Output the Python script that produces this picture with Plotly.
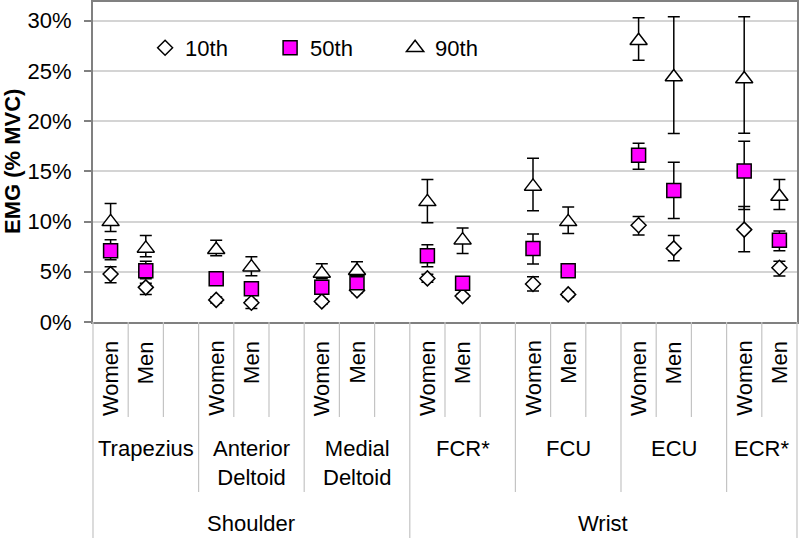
import plotly.graph_objects as go

# ---------------- data (EMG, % MVC) ----------------
muscles = ["Trapezius", "Anterior<br>Deltoid", "Medial<br>Deltoid", "FCR*", "FCU", "ECU", "ECR*"]
regions = ["Shoulder", "Wrist"]
region_of_muscle = [0, 0, 0, 1, 1, 1, 1]
genders = ["Women", "Men"]
y_ticks = [0, 5, 10, 15, 20, 25, 30]
y_tick_labels = ["0%", "5%", "10%", "15%", "20%", "25%", "30%"]
series_names = ["10th", "50th", "90th"]

# order: TrapW, TrapM, AntW, AntM, MedW, MedM, FCRW, FCRM, FCUW, FCUM, ECUW, ECUM, ECRW, ECRM
p10 = [4.77, 3.45, 2.20, 1.92, 2.05, 3.15, 4.34, 2.58, 3.78, 2.75, 9.64, 7.33, 9.20, 5.40]
p10_hi = [5.50, 3.85, 2.50, 2.20, 2.30, 3.40, 4.75, 2.80, 4.50, 3.00, 10.50, 8.60, 11.50, 6.06]
p10_lo = [3.90, 2.75, 1.90, 1.35, 1.80, 2.90, 3.95, 2.35, 3.08, 2.50, 8.65, 6.10, 7.00, 4.57]

p50 = [7.09, 5.10, 4.30, 3.30, 3.45, 3.90, 6.60, 3.85, 7.33, 5.10, 16.60, 13.10, 15.04, 8.15]
p50_hi = [8.20, 6.06, 4.70, 3.70, 3.90, 4.30, 7.70, 4.20, 8.75, 5.50, 17.80, 15.90, 18.00, 9.07]
p50_lo = [6.20, 4.30, 3.90, 2.90, 3.00, 3.50, 5.50, 3.50, 5.77, 4.70, 15.20, 10.30, 11.20, 7.09]

p90 = [9.97, 7.33, 7.20, 5.46, 4.84, 5.10, 11.96, 8.15, 13.50, 9.97, 28.00, 24.40, 24.20, 12.50]
p90_hi = [11.80, 8.60, 8.15, 6.50, 5.80, 6.00, 14.20, 9.37, 16.30, 11.46, 30.30, 30.40, 30.40, 14.20]
p90_lo = [9.00, 6.50, 6.60, 4.60, 4.30, 4.50, 9.87, 6.83, 11.07, 8.80, 26.05, 18.76, 18.80, 11.20]

# ---------------- layout helpers ----------------
W, H = 800, 538
ML, MR, MT, MB = 93, 3, 2, 216
PH = H - MT - MB
FONT = "Liberation Sans, Arial, sans-serif"
FS = 22
n_slots = len(muscles) * 3 - 1

slot_x = []
for mi in range(len(muscles)):
    for gi in range(len(genders)):
        slot_x.append(mi * 3 + gi)

def err(v, hi, lo):
    return [h - a for a, h in zip(v, hi)], [a - l for a, l in zip(v, lo)]

fig = go.Figure()
styles = [
    dict(symbol="diamond", size=11.5, color="white"),
    dict(symbol="square", size=14, color="#FF00FF"),
    dict(symbol="triangle-up", size=15, color="white"),
]
for name, v, hi, lo, st in zip(series_names, [p10, p50, p90], [p10_hi, p50_hi, p90_hi],
                               [p10_lo, p50_lo, p90_lo], styles):
    up, dn = err(v, hi, lo)
    fig.add_trace(go.Scatter(
        x=slot_x, y=v, mode="markers", name=name,
        marker=dict(symbol=st["symbol"], size=st["size"], color=st["color"],
                    line=dict(color="black", width=1.5)),
        error_y=dict(type="data", symmetric=False, array=up, arrayminus=dn,
                     color="black", thickness=1.5, width=6),
    ))

ann = []
# y title
ann.append(dict(text="<b>EMG (% MVC)</b>", x=0, y=0.5, xref="paper", yref="paper",
                xanchor="center", yanchor="middle", xshift=-81, textangle=-90,
                showarrow=False, font=dict(size=22, color="black", family=FONT)))
# gender labels
for mi in range(len(muscles)):
    for gi, g in enumerate(genders):
        ann.append(dict(text=g, x=mi * 3 + gi, y=0, xref="x", yref="paper",
                        xanchor="center", yanchor="top", yshift=-17, textangle=-90,
                        showarrow=False, font=dict(size=FS, color="black", family=FONT)))
# muscle labels
for mi, m in enumerate(muscles):
    first, last = mi * 3, min(mi * 3 + 2, n_slots - 1)
    ann.append(dict(text=m, x=(first + last) / 2, y=0, xref="x", yref="paper",
                    xanchor="center", yanchor="top", yshift=-112,
                    showarrow=False, font=dict(size=FS, color="black", family=FONT)))
# region labels
for ri, r in enumerate(regions):
    idx = [mi for mi, rr in enumerate(region_of_muscle) if rr == ri]
    first, last = idx[0] * 3, min(idx[-1] * 3 + 2, n_slots - 1)
    ann.append(dict(text=r, x=(first + last) / 2, y=0, xref="x", yref="paper",
                    xanchor="center", yanchor="middle", yshift=-201,
                    showarrow=False, font=dict(size=FS, color="black", family=FONT)))

# separator lines in the category table
shapes = []
def py(px_below):
    return -px_below / PH
short_b, long_b, full_b = py(417 - 322), py(492 - 322), py(MB)
region_starts = set()
for ri in range(len(regions)):
    idx = [mi for mi, rr in enumerate(region_of_muscle) if rr == ri]
    region_starts.add(idx[0] * 3)
for k in range(0, n_slots + 1):
    if k == 0 or k == n_slots or k in region_starts:
        y1 = full_b
    elif k % 3 == 0:
        y1 = long_b
    else:
        y1 = short_b
    shapes.append(dict(type="line", xref="paper", yref="paper", x0=k / n_slots, x1=k / n_slots,
                       y0=0, y1=y1, line=dict(color="#c4c4c4", width=1.2)))

fig.update_layout(
    width=W, height=H, margin=dict(l=ML, r=MR, t=MT, b=MB, autoexpand=False),
    paper_bgcolor="white", plot_bgcolor="white",
    font=dict(family=FONT, size=FS, color="black"),
    showlegend=True,
    legend=dict(orientation="h", x=0.074, y=(H - MB - 48) / PH, xanchor="left", yanchor="middle",
                font=dict(size=FS, family=FONT, color="black"), bgcolor="rgba(0,0,0,0)",
                entrywidth=80, itemclick=False),
    annotations=ann, shapes=shapes,
    xaxis=dict(range=[-0.5, n_slots - 0.5], showticklabels=False, ticks="", showgrid=False,
               zeroline=False, showline=True, linecolor="#808080", linewidth=2, mirror=True,
               automargin=False),
    yaxis=dict(range=[0, 31.86], tickmode="array", tickvals=y_ticks, ticktext=y_tick_labels,
               showgrid=True, automargin=False,
               gridcolor="#d4d4d4", gridwidth=1.5, zeroline=False, showline=True,
               linecolor="#808080", linewidth=2, mirror=True, ticks="outside", ticklen=7,
               tickcolor="#808080", tickwidth=1.5, ticklabelstandoff=8,
               tickfont=dict(size=FS, family=FONT, color="black")),
)

fig.write_html("out.html", config={"displayModeBar": False},
               post_script="document.body.style.margin='0';document.body.style.padding='0';")
